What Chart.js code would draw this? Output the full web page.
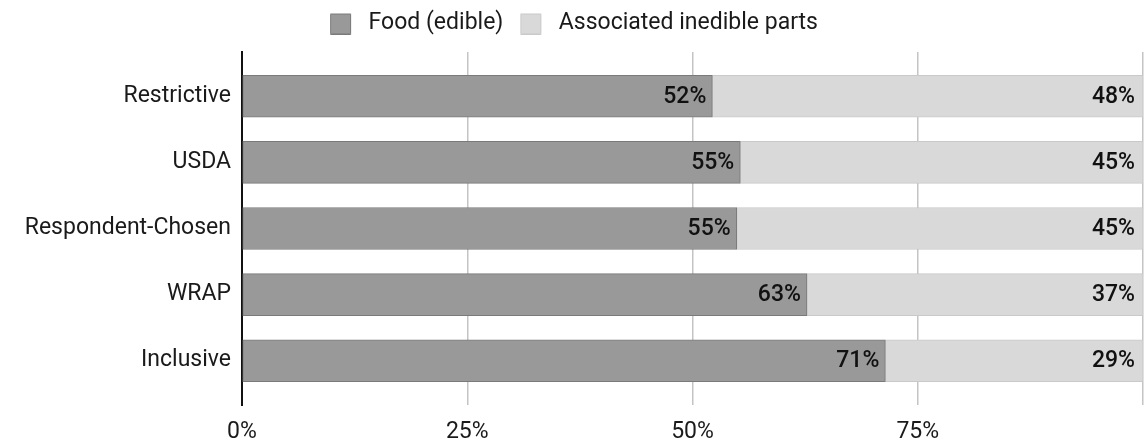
<!DOCTYPE html>
<html>
<head>
<meta charset="utf-8">
<script src="https://cdn.jsdelivr.net/npm/chart.js@4.4.1/dist/chart.umd.min.js"></script>
<style>
  html, body { margin: 0; padding: 0; background: #fff; }
  #wrap { width: 1146px; height: 445px; position: relative; }
</style>
</head>
<body>
<div id="wrap"><canvas id="c"></canvas></div>
<script>
const categories = ['Restrictive', 'USDA', 'Respondent-Chosen', 'WRAP', 'Inclusive'];
const foodEdible = [52.2, 55.3, 54.9, 62.7, 71.4];
const inedibleParts = [47.8, 44.7, 45.1, 37.3, 28.6];
const seriesNames = ['Food (edible)', 'Associated inedible parts'];
const xTicks = [0, 25, 50, 75, 100];

const FONT = 'Roboto, "Liberation Sans", sans-serif';
const FS = 23;
const colors = [
  { fill: '#999999', border: '#7a7a7a' },
  { fill: '#d9d9d9', border: '#c9c9c9' }
];

function legendSwatch(c) {
  const cv = document.createElement('canvas');
  cv.width = 32; cv.height = 22;
  const g = cv.getContext('2d');
  g.fillStyle = c.fill;
  g.strokeStyle = c.border;
  g.lineWidth = 1;
  g.beginPath();
  g.rect(5.5, 1.5, 20, 20);
  g.fill();
  g.stroke();
  return cv;
}
const swatches = colors.map(legendSwatch);

const toPoints = arr => arr.map((v, i) => ({ x: v, y: i }));

const valueLabels = {
  id: 'valueLabels',
  afterDatasetsDraw(chart) {
    const ctx = chart.ctx;
    ctx.save();
    ctx.font = '500 23px ' + FONT;
    ctx.fillStyle = '#111';
    ctx.textAlign = 'right';
    ctx.textBaseline = 'middle';
    chart.data.datasets.forEach((ds, di) => {
      const meta = chart.getDatasetMeta(di);
      meta.data.forEach((bar, i) => {
        const v = ds.data[i].x;
        const pad = di === 0 ? 6 : 8;
        ctx.fillText(Math.round(v) + '%', bar.x - pad, bar.y + 1);
      });
    });
    ctx.restore();
  }
};

const legendSpacer = {
  id: 'legendSpacer',
  afterInit(chart) {
    const lg = chart.legend;
    if (!lg) return;
    const orig = lg.fit;
    lg.fit = function () { orig.call(this); this.height += 7; };
  }
};

new Chart(document.getElementById('c'), {
  type: 'bar',
  data: {
    datasets: [
      {
        label: seriesNames[0],
        data: toPoints(foodEdible),
        backgroundColor: colors[0].fill,
        borderColor: colors[0].border,
        borderWidth: 1,
        borderSkipped: false,
        barThickness: 42
      },
      {
        label: seriesNames[1],
        data: toPoints(inedibleParts),
        backgroundColor: colors[1].fill,
        borderColor: colors[1].border,
        borderWidth: 1,
        borderSkipped: false,
        barThickness: 42
      }
    ]
  },
  options: {
    indexAxis: 'y',
    responsive: true,
    maintainAspectRatio: false,
    animation: false,
    layout: { padding: { left: 0, right: 3, top: 0, bottom: 0 } },
    plugins: {
      tooltip: { enabled: false },
      legend: {
        position: 'top',
        align: 'center',
        labels: {
          usePointStyle: true,
          pointStyleWidth: 32,
          boxHeight: 22,
          padding: 12,
          color: '#1a1a1a',
          font: { family: FONT, size: FS },
          generateLabels(chart) {
            const items = Chart.defaults.plugins.legend.labels.generateLabels(chart);
            items.forEach((it, i) => { it.pointStyle = swatches[i]; });
            return items;
          }
        }
      }
    },
    scales: {
      x: {
        type: 'linear',
        stacked: true,
        min: 0,
        max: 100,
        afterBuildTicks(scale) { scale.ticks = xTicks.map(v => ({ value: v })); },
        ticks: {
          padding: 13,
          color: '#1a1a1a',
          font: { family: FONT, size: FS },
          callback: v => (v === 100 ? '' : v + '%')
        },
        grid: { color: '#c4c4c4', lineWidth: 1.5, drawTicks: false },
        border: { display: false },
        afterFit(scale) { scale.height = 40; scale.paddingRight = 0; scale.paddingLeft = 0; }
      },
      y: {
        type: 'linear',
        stacked: true,
        reverse: true,
        offset: false,
        min: -0.67,
        max: 4.67,
        afterBuildTicks(scale) { scale.ticks = categories.map((_, i) => ({ value: i })); },
        ticks: {
          padding: 11,
          color: '#1a1a1a',
          font: { family: FONT, size: FS },
          callback: v => categories[v]
        },
        grid: { display: false, drawTicks: false },
        border: { display: true, color: '#111', width: 2 },
        afterFit(scale) { scale.width = 242; }
      }
    }
  },
  plugins: [valueLabels, legendSpacer]
});
</script>
</body>
</html>
